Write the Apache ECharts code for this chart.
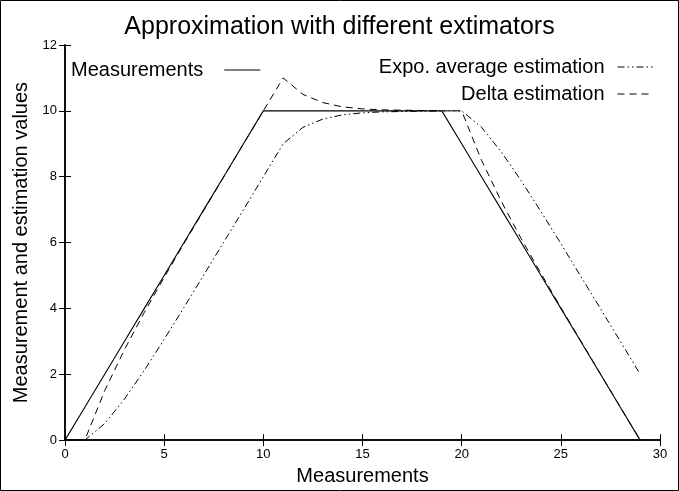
<!DOCTYPE html>
<html>
<head>
<meta charset="utf-8">
<script src="https://cdn.jsdelivr.net/npm/echarts@6/dist/echarts.min.js"></script>
<style>
  html, body { margin: 0; padding: 0; background: #fff; }
  #chart { width: 679px; height: 491px; }
</style>
</head>
<body>
<div id="chart"></div>
<script>
// x positions of the samples
var steps = [0,1,2,3,4,5,6,7,8,9,10,11,12,13,14,15,16,17,18,19,20,21,22,23,24,25,26,27,28,29];
var measurements = [0,1,2,3,4,5,6,7,8,9,10,10,10,10,10,10,10,10,10,10,9,8,7,6,5,4,3,2,1,0];
var expoAverage = [0,0,0.5,1.25,2.12,3.06,4.03,5.02,6.01,7.0,8.0,9.0,9.5,9.75,9.88,9.94,9.97,9.98,9.99,10,10,9.5,8.75,7.88,6.94,5.97,4.98,3.99,3.0,2.0];
var deltaEstimate = [0,0,1.5,2.75,3.88,4.94,5.97,6.98,7.99,9.0,10.0,11.0,10.5,10.25,10.12,10.06,10.03,10.02,10.01,10,10,8.5,7.25,6.12,5.06,4.03,3.02,2.01,1.0,0];
var xTicks = [0, 30, 5];
var yTicks = [0, 12, 2];

function pairs(ys){
	var out = [];
	for (var i = 0; i < steps.length; i++) out.push([steps[i], ys[i]]);
	return out;
}

var font = 'Liberation Sans, Arial, Helvetica, sans-serif';
var chart = echarts.init(document.getElementById('chart'));

function axisBase(show){
	return {
		axisLine: { show: true, lineStyle: { color: '#000', width: 1.5 } },
		axisTick: { show: true, inside: true, length: 6, lineStyle: { color: '#000', width: 1 } },
		splitLine: { show: false },
		axisLabel: { show: show, color: '#000', fontSize: 13, fontFamily: font, margin: 8 }
	};
}

function legendBox(name, pos, pad){
	return Object.assign({
		data: [name], align: 'right', itemWidth: 36, itemHeight: 14, selectedMode: false,
		itemStyle: { opacity: 0 },
		lineStyle: { width: 1 },
		textStyle: { fontSize: 20, color: '#000', fontFamily: font, padding: [0, pad, 0, 0] }
	}, pos);
}

var option = {
	animation: false,
	title: {
		text: 'Approximation with different extimators',
		left: 'center', top: 10,
		textStyle: { fontSize: 25, fontWeight: 'normal', color: '#000', fontFamily: font }
	},
	graphic: [{
		type: 'rect',
		shape: { x: 0.5, y: 0.5, width: 678, height: 490 },
		style: { fill: 'none', stroke: '#000', lineWidth: 1 }
	}],
	legend: [
		legendBox('Measurements', { left: 66, top: 55 }, 16),
		legendBox('Expo. average estimation', { right: 20, top: 52 }, 8),
		legendBox('Delta estimation', { right: 20, top: 79 }, 8)
	],
	grid: { left: 65, right: 19, top: 45, bottom: 50 },
	xAxis: [
		Object.assign({ type: 'value', min: xTicks[0], max: xTicks[1], interval: xTicks[2], position: 'bottom',
			name: 'Measurements', nameLocation: 'middle', nameGap: 25,
			nameTextStyle: { fontSize: 20, color: '#000', fontFamily: font } }, axisBase(true)),
		Object.assign({ type: 'value', min: xTicks[0], max: xTicks[1], interval: xTicks[2], position: 'top' }, axisBase(false))
	],
	yAxis: [
		Object.assign({ type: 'value', min: yTicks[0], max: yTicks[1], interval: yTicks[2], position: 'left',
			name: 'Measurement and estimation values', nameLocation: 'middle', nameGap: 30,
			nameTextStyle: { fontSize: 20, color: '#000', fontFamily: font } }, axisBase(true)),
		Object.assign({ type: 'value', min: yTicks[0], max: yTicks[1], interval: yTicks[2], position: 'right' }, axisBase(false))
	],
	series: [
		{
			name: 'Measurements', type: 'line', symbol: 'none', data: pairs(measurements),
			lineStyle: { color: '#000', width: 1.1, type: 'solid' }, itemStyle: { color: '#000' }
		},
		{
			name: 'Expo. average estimation', type: 'line', symbol: 'none', data: pairs(expoAverage),
			lineStyle: { color: '#000', width: 1, type: [7, 3, 1.5, 3, 1.5, 3] }, itemStyle: { color: '#000' }
		},
		{
			name: 'Delta estimation', type: 'line', symbol: 'none', data: pairs(deltaEstimate),
			lineStyle: { color: '#000', width: 1, type: [7, 5] }, itemStyle: { color: '#000' }
		}
	]
};

chart.setOption(option);
</script>
</body>
</html>
